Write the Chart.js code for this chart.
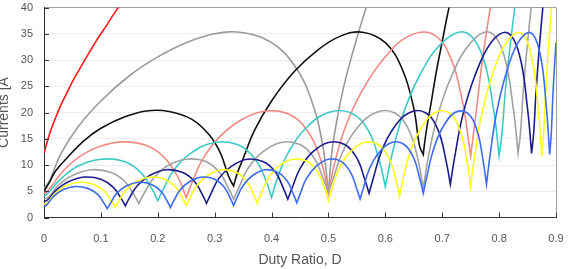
<!DOCTYPE html>
<html>
<head>
<meta charset="utf-8">
<script src="https://cdn.jsdelivr.net/npm/chart.js@4/dist/chart.umd.min.js"></script>
<style>
  html, body { margin: 0; padding: 0; background: #fff; }
  #wrap { width: 568px; height: 269px; }
</style>
</head>
<body>
<div id="wrap"><canvas id="chart" width="568" height="269"></canvas></div>
<script>
// duty ratio (x) and capacitor current (y) for each phase count
const n1D = [0, 0.01, 0.02, 0.03, 0.04, 0.05, 0.06, 0.07, 0.08, 0.09, 0.10, 0.11, 0.12, 0.13, 0.14];
const n1I = [12.2, 16.0, 18.9, 21.5, 23.7, 25.9, 27.8, 29.7, 31.5, 33.3, 35.0, 36.6, 38.3, 39.9, 41.5];

const n2D = [0, 0.01, 0.03, 0.06, 0.1, 0.15, 0.2, 0.25, 0.3, 0.35, 0.4, 0.44, 0.47, 0.49,
  0.5, 0.505, 0.51, 0.52, 0.53, 0.54, 0.55, 0.56, 0.57];
const n2I = [5.5, 7.1, 12.2, 17.3, 22.2, 27.0, 30.6, 33.3, 35.0, 35.2, 33.3, 29.0, 22.4, 13.7,
  4.7, 11.5, 15.5, 21.5, 26.3, 30.4, 34.2, 37.8, 41.2];

const n3D = [0, 0.01, 0.02, 0.04, 0.07, 0.1, 0.14, 0.18, 0.22, 0.26, 0.29, 0.31, 0.325,
  0.3333, 0.34, 0.35, 0.37, 0.4, 0.44, 0.48, 0.52, 0.56, 0.6, 0.63, 0.65, 0.66,
  0.6667, 0.67, 0.675, 0.68, 0.69, 0.70, 0.71, 0.72];
const n3I = [5.0, 6.8, 8.8, 11.3, 14.6, 17.0, 19.1, 20.3, 20.2, 18.7, 15.8, 12.3, 7.7,
  6.0, 8.5, 11.2, 16.6, 22.2, 27.8, 31.8, 34.5, 35.3, 33.3, 28.2, 20.8, 13.7,
  12.0, 15.0, 18.5, 21.5, 28.0, 33.5, 39.0, 43.5];

const n4D = [0, 0.01, 0.03, 0.06, 0.1, 0.14, 0.18, 0.21, 0.235,
  0.25, 0.26, 0.28, 0.31, 0.35, 0.39, 0.43, 0.46, 0.485,
  0.5, 0.51, 0.53, 0.56, 0.6, 0.64, 0.68, 0.71, 0.735,
  0.75, 0.76, 0.77, 0.78, 0.79];
const n4I = [4.5, 5.5, 8.4, 11.4, 13.6, 14.4, 13.7, 11.6, 7.8,
  3.8, 6.6, 11.3, 15.5, 18.8, 20.3, 19.7, 17.0, 11.5,
  4.5, 10.0, 17.3, 24.3, 30.6, 34.5, 35.1, 31.6, 22.4,
  11.7, 20.4, 29.5, 36.9, 43.6];

const n5D = [0, 0.01, 0.03, 0.06, 0.1, 0.14, 0.17, 0.19,
  0.2, 0.21, 0.23, 0.26, 0.3, 0.34, 0.37, 0.39,
  0.4, 0.41, 0.43, 0.46, 0.5, 0.54, 0.57, 0.59,
  0.6, 0.61, 0.63, 0.66, 0.7, 0.74, 0.77, 0.79,
  0.8, 0.805, 0.81, 0.815, 0.82, 0.825, 0.83];
const n5I = [4.0, 5.0, 7.4, 9.8, 11.1, 10.7, 8.6, 5.4,
  3.2, 5.5, 9.3, 12.4, 14.3, 13.9, 11.3, 7.1,
  3.8, 7.4, 12.5, 17.0, 20.0, 19.9, 16.6, 10.6,
  5.9, 11.2, 19.3, 27.0, 33.3, 35.3, 31.0, 20.8,
  11.7, 16.0, 22.9, 28.5, 33.3, 37.8, 42.0];

const n6D = [0, 0.0083, 0.025, 0.05, 0.0833, 0.1167, 0.1417, 0.1583,
  0.1667, 0.175, 0.1917, 0.2167, 0.25, 0.2833, 0.3083, 0.325,
  0.3333, 0.3417, 0.3583, 0.3833, 0.4167, 0.45, 0.475, 0.4917,
  0.5, 0.5083, 0.525, 0.55, 0.5833, 0.6167, 0.6417, 0.6583,
  0.6667, 0.675, 0.6917, 0.7167, 0.75, 0.7833, 0.8083, 0.825,
  0.8333, 0.8375, 0.8417, 0.8458, 0.85, 0.8542, 0.8583];
const n6I = [3.5, 3.9, 6.1, 8.0, 9.1, 8.6, 6.9, 4.3,
  2.7, 4.4, 7.4, 9.8, 11.1, 10.7, 8.6, 5.4,
  3.5, 5.5, 9.3, 12.4, 14.3, 13.9, 11.3, 7.1,
  4.8, 7.4, 12.5, 17.0, 20.0, 19.9, 16.6, 10.6,
  5.5, 11.2, 19.3, 27.0, 33.3, 35.3, 31.0, 20.7,
  12.3, 16.0, 22.9, 28.5, 33.3, 37.8, 42.0];

const n7D = [0, 0.0071, 0.0214, 0.0429, 0.0714, 0.1, 0.1214, 0.1357,
  0.1429, 0.15, 0.1643, 0.1857, 0.2143, 0.2429, 0.2643, 0.2786,
  0.2857, 0.2929, 0.3071, 0.3286, 0.3571, 0.3857, 0.4071, 0.4214,
  0.4286, 0.4357, 0.45, 0.4714, 0.5, 0.5286, 0.55, 0.5643,
  0.5714, 0.5786, 0.5929, 0.6143, 0.6429, 0.6714, 0.6929, 0.7071,
  0.7143, 0.7214, 0.7357, 0.7571, 0.7857, 0.8143, 0.8357, 0.85,
  0.8571, 0.8607, 0.8643, 0.8679, 0.8714, 0.875, 0.8786];
const n7I = [3.0, 3.4, 5.2, 6.8, 7.7, 7.3, 5.8, 3.6,
  2.2, 3.7, 6.1, 8.0, 9.1, 8.6, 6.9, 4.3,
  2.7, 4.4, 7.4, 9.7, 11.1, 10.6, 8.6, 5.4,
  3.5, 5.5, 9.3, 12.4, 14.3, 13.9, 11.3, 7.1,
  4.6, 7.4, 12.5, 17.0, 20.0, 19.9, 16.6, 10.6,
  6.3, 11.2, 19.3, 26.9, 33.3, 35.2, 31.0, 20.7,
  12.2, 16.0, 22.9, 28.5, 33.3, 37.8, 42.0];

const n8D = [0, 0.0063, 0.0188, 0.0375, 0.0625, 0.0875, 0.1063, 0.1188,
  0.125, 0.1313, 0.1438, 0.1625, 0.1875, 0.2125, 0.2313, 0.2438,
  0.25, 0.2563, 0.2688, 0.2875, 0.3125, 0.3375, 0.3563, 0.3688,
  0.375, 0.3813, 0.3938, 0.4125, 0.4375, 0.4625, 0.4813, 0.4938,
  0.5, 0.5063, 0.5188, 0.5375, 0.5625, 0.5875, 0.6063, 0.6188,
  0.625, 0.6313, 0.6438, 0.6625, 0.6875, 0.7125, 0.7313, 0.7438,
  0.75, 0.7563, 0.7688, 0.7875, 0.8125, 0.8375, 0.8563, 0.8688,
  0.875, 0.8781, 0.8813, 0.8844, 0.8875, 0.8906, 0.8938];
const n8I = [2.5, 2.9, 4.5, 6.0, 6.7, 6.3, 5.0, 3.1,
  1.9, 3.1, 5.2, 6.8, 7.7, 7.3, 5.8, 3.6,
  2.3, 3.7, 6.1, 8.0, 9.1, 8.6, 6.9, 4.3,
  2.7, 4.4, 7.4, 9.8, 11.1, 10.7, 8.6, 5.4,
  3.2, 5.5, 9.3, 12.4, 14.3, 13.9, 11.3, 7.2,
  4.0, 7.4, 12.5, 17.0, 20.0, 19.9, 16.6, 10.7,
  6.0, 11.2, 19.3, 27.0, 33.3, 35.2, 31.0, 20.8,
  11.7, 16.0, 22.9, 28.5, 33.3, 37.8, 42.0];

const n9D = [0, 0.0056, 0.0167, 0.0333, 0.0556, 0.0778, 0.0944, 0.1056,
  0.1111, 0.1167, 0.1278, 0.1444, 0.1667, 0.1889, 0.2056, 0.2167,
  0.2222, 0.2278, 0.2389, 0.2556, 0.2778, 0.3, 0.3167, 0.3278,
  0.3333, 0.3389, 0.35, 0.3667, 0.3889, 0.4111, 0.4278, 0.4389,
  0.4444, 0.45, 0.4611, 0.4778, 0.5, 0.5222, 0.5389, 0.55,
  0.5556, 0.5611, 0.5722, 0.5889, 0.6111, 0.6333, 0.65, 0.6611,
  0.6667, 0.6722, 0.6833, 0.7, 0.7222, 0.7444, 0.7611, 0.7722,
  0.7778, 0.7833, 0.7944, 0.8111, 0.8333, 0.8556, 0.8722, 0.8833,
  0.8889, 0.8917, 0.8944, 0.8972, 0.9, 0.9028];
const n9I = [2.0, 2.5, 4.0, 5.3, 5.9, 5.5, 4.4, 2.7,
  1.7, 2.7, 4.6, 6.0, 6.7, 6.3, 5.0, 3.1,
  1.9, 3.1, 5.2, 6.8, 7.7, 7.3, 5.8, 3.6,
  2.3, 3.7, 6.1, 8.0, 9.1, 8.6, 6.9, 4.3,
  2.8, 4.4, 7.4, 9.7, 11.1, 10.7, 8.6, 5.4,
  3.5, 5.5, 9.3, 12.4, 14.3, 13.9, 11.3, 7.2,
  4.6, 7.4, 12.5, 17.0, 20.0, 19.9, 16.6, 10.6,
  6.3, 11.2, 19.3, 27.0, 33.3, 35.2, 31.1, 20.7,
  12.0, 16.0, 22.9, 28.5, 33.3, 37.8];

const xTicks = [0, 0.1, 0.2, 0.3, 0.4, 0.5, 0.6, 0.7, 0.8, 0.9];
const yTicks = [0, 5, 10, 15, 20, 25, 30, 35, 40];

const curves = [
  [n1D, n1I, '#ff1a1a'],
  [n2D, n2I, '#9a9a9a'],
  [n3D, n3I, '#111111'],
  [n4D, n4I, '#f28a86'],
  [n5D, n5I, '#3ec9c6'],
  [n6D, n6I, '#a2a2a2'],
  [n7D, n7I, '#1c1c8c'],
  [n8D, n8I, '#ffff1e'],
  [n9D, n9I, '#3d6cf0']
];

// repeat the V bottoms so the spline keeps a sharp cusp there
function toPoints(xs, ys) {
  const pts = [];
  xs.forEach((x, i) => {
    pts.push({ x: x, y: ys[i] });
    if (i > 0 && i < xs.length - 1 && ys[i] < ys[i - 1] && ys[i] < ys[i + 1]) {
      pts.push({ x: x, y: ys[i] });
    }
  });
  return pts;
}

// no padding for half labels, the layout padding sets the plot box
function fixPad(s) {
  s.paddingTop = 0;
  s.paddingBottom = 0;
  s.paddingLeft = 0;
  s.paddingRight = 0;
}

const innerTicks = {
  id: 'innerTicks',
  afterDatasetsDraw(chart) {
    const { ctx, chartArea: a, scales: { x, y } } = chart;
    ctx.save();
    ctx.strokeStyle = '#333';
    ctx.lineWidth = 1;
    ctx.beginPath();
    xTicks.forEach(v => {
      const px = Math.round(x.getPixelForValue(v)) + 0.5;
      ctx.moveTo(px, a.bottom);
      ctx.lineTo(px, a.bottom - 5);
    });
    yTicks.forEach(v => {
      const py = Math.round(y.getPixelForValue(v)) + 0.5;
      ctx.moveTo(a.left, py);
      ctx.lineTo(a.left + 5, py);
    });
    ctx.stroke();
    ctx.restore();
  }
};

const ctx = document.getElementById('chart').getContext('2d');

new Chart(ctx, {
  type: 'line',
  data: {
    datasets: curves.map((c, i) => ({
      data: toPoints(c[0], c[1]),
      borderColor: c[2],
      borderWidth: 1.6,
      pointRadius: 0,
      tension: 0.4,
      fill: false,
      order: 10 - i
    }))
  },
  options: {
    responsive: false,
    animation: false,
    layout: { padding: { top: 7.5, right: 12, bottom: 0, left: 0 } },
    plugins: { legend: { display: false }, tooltip: { enabled: false } },
    scales: {
      x: {
        type: 'linear',
        min: 0,
        max: 0.9,
        afterFit: s => { s.height = 51.5; fixPad(s); },
        afterBuildTicks: s => { s.ticks = xTicks.map(v => ({ value: v })); },
        ticks: {
          padding: 15,
          color: '#555',
          font: { family: 'Liberation Sans', size: 11 },
          callback: v => String(+v.toFixed(1))
        },
        grid: {
          drawTicks: false,
          color: c => (c.index === xTicks.length - 1 ? '#a0a0a0' : 'rgba(0,0,0,0)')
        },
        border: { color: '#333', width: 1 },
        title: {
          display: true,
          text: 'Duty Ratio, D',
          color: '#555',
          font: { family: 'Liberation Sans', size: 14 },
          padding: { top: 0, bottom: 0 }
        }
      },
      y: {
        min: 0,
        max: 40,
        afterFit: s => { s.width = 44; fixPad(s); },
        afterBuildTicks: s => { s.ticks = yTicks.map(v => ({ value: v })); },
        ticks: {
          padding: 11,
          color: '#555',
          font: { family: 'Liberation Sans', size: 11 }
        },
        grid: {
          drawTicks: false,
          color: c => (c.tick && c.tick.value === 40 ? '#a0a0a0' : '#eeeeee')
        },
        border: { color: '#333', width: 1 },
        title: {
          display: true,
          text: 'Currents [A',
          color: '#555',
          font: { family: 'Liberation Sans', size: 14 },
          padding: { top: -4.5, bottom: 0 }
        }
      }
    }
  },
  plugins: [innerTicks]
});
</script>
</body>
</html>
